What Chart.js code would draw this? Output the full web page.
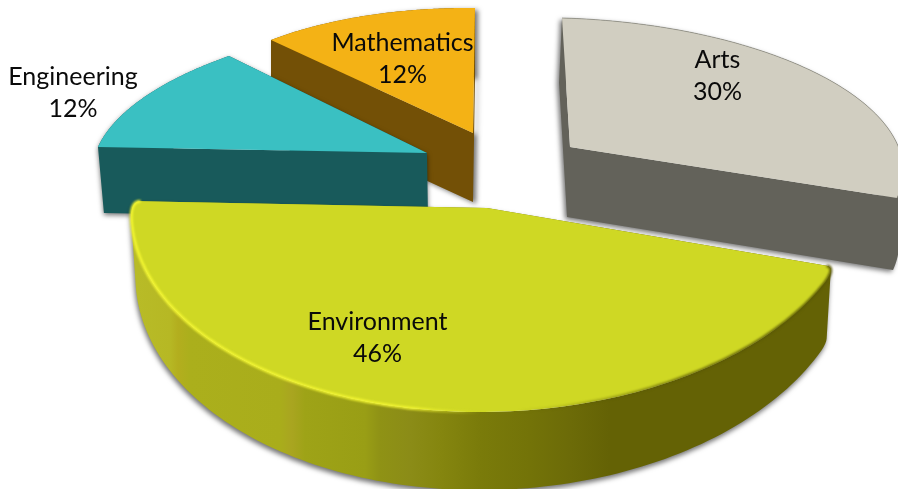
<!DOCTYPE html>
<html>
<head>
<meta charset="utf-8">
<style>
  html, body { margin: 0; padding: 0; background: #fff; }
  #wrap { width: 898px; height: 489px; }
</style>
<script src="https://cdn.jsdelivr.net/npm/chart.js@4/dist/chart.umd.js"></script>
</head>
<body>
<div id="wrap"><canvas id="pie"></canvas></div>
<script>
// Share of projects by field
const fields = ['Arts', 'Environment', 'Engineering', 'Mathematics'];
const shares = [30, 46, 12, 12];

const topColors = ['#D1CEC1', '#CFD824', '#3AC0C2', '#F4B215'];
const wallColors = ['#63625A', '#646205', '#185A5B', '#735006'];

// Back slices are painted first so the front slice overlaps them.
const paintOrder = [0, 3, 2, 1];

// Perspective frame of each exploded slice: [a, b, c, d, e, f, g, h].
const frames = [
  [337.5, 7.2, 8.755, 141.2, 121, -97.5, 0.01995, -0.0944],
  [363, -6, -4, 208, 38, -36.5, -0.02, 0.01967],
  [332.2, -2.5, -40.3, 135.4, -22, -91.5, 0, 0],
  [297.2, 2.74, -2, 125, 24, -111.5, 0, 0]
];

// Extrusion of each slice: [dx, dy, growX, growY].
const walls = [
  [-3, 70, -0.003, 0.04],
  [0, 63.6, -0.012, 0.0714],
  [1, 66, -0.015, 0],
  [0, 69, 0, 0]
];

const wallShadowOffsets = [[-2, 2], [-1, 3], [0, 2], [3, 2]];

// Corner softening radius of each slice's top face.
const cornerRadii = [0, 9, 0, 0];

// Label centres, relative to the pie centre.
const labelOffsets = [[268.5, -168.5], [-71.5, 93.5], [-376, -152], [-46.5, -186]];

// Facets along the front wall of the large slice, by canvas x.
const facetStops = [
  [137, '#B8BB27'], [170, '#B6B824'], [178, '#B3AE1E'], [190, '#ABAF1C'],
  [280, '#A9AD1B'], [292, '#A9A520'], [305, '#9EA317'], [365, '#999E15'],
  [380, '#8F9215'], [410, '#8B8C17'], [440, '#85860F'], [480, '#7A7B0A'],
  [530, '#737308'], [570, '#6C6B08'], [610, '#646205']
];

function project(i, arc, angle, t) {
  const [a, b, c, d, e, f, g, h] = frames[i];
  const k = arc.outerRadius / 244.5;
  const u = t * Math.cos(angle), v = t * Math.sin(angle);
  const w = 1 + g * u + h * v;
  return [arc.x + k * (e + (a * u + c * v) / w), arc.y + k * (f + (b * u + d * v) / w)];
}

function distance(p, q) {
  return Math.hypot(p[0] - q[0], p[1] - q[1]);
}

// Replaces a sharp rim end by a short curve running in from the radial edge.
function softCorner(corner, next, apex, r) {
  const l = distance(corner, apex);
  const a = [corner[0] + (apex[0] - corner[0]) * r / l, corner[1] + (apex[1] - corner[1]) * r / l];
  const pts = [];
  for (let s = 0; s <= 8; s++) {
    const q = s / 8, m = 1 - q;
    pts.push([
      m * m * a[0] + 2 * m * q * corner[0] + q * q * next[0],
      m * m * a[1] + 2 * m * q * corner[1] + q * q * next[1]
    ]);
  }
  return pts;
}

function rimPoints(i, arc) {
  let pts = [];
  const n = 120;
  for (let s = 0; s <= n; s++) {
    pts.push(project(i, arc, arc.startAngle + (arc.endAngle - arc.startAngle) * s / n, 1));
  }
  const r = cornerRadii[i];
  if (r) {
    const apex = project(i, arc, 0, 0);
    const first = pts[0], last = pts[pts.length - 1];
    const inner = pts.filter(p => distance(p, first) > r * 1.6 && distance(p, last) > r * 1.6);
    pts = [
      ...softCorner(first, inner[0], apex, r),
      ...inner.slice(1, -1),
      ...softCorner(last, inner[inner.length - 1], apex, r).reverse()
    ];
  }
  return pts;
}

function extrude(i, arc, p) {
  const [dx, dy, gx, gy] = walls[i];
  const o = project(i, arc, 0, 0);
  return [p[0] + dx + gx * (p[0] - o[0]), p[1] + dy + gy * (p[1] - o[1])];
}

function tracePolygon(ctx, pts) {
  ctx.moveTo(pts[0][0], pts[0][1]);
  for (let j = 1; j < pts.length; j++) ctx.lineTo(pts[j][0], pts[j][1]);
  ctx.closePath();
}

function traceLine(ctx, pts) {
  pts.forEach((p, j) => (j ? ctx.lineTo(p[0], p[1]) : ctx.moveTo(p[0], p[1])));
}

function signedArea(pts) {
  let s = 0;
  pts.forEach((p, j) => {
    const q = pts[(j + 1) % pts.length];
    s += p[0] * q[1] - q[0] * p[1];
  });
  return s;
}

function paintSlice(ctx, arc, i) {
  const rim = rimPoints(i, arc);
  const outline = [project(i, arc, 0, 0), ...rim];

  // Side walls: one quad for each outline edge, wound the same way so they merge.
  ctx.save();
  ctx.beginPath();
  outline.forEach((p, j) => {
    const q = outline[(j + 1) % outline.length];
    let quad = [p, q, extrude(i, arc, q), extrude(i, arc, p)];
    if (signedArea(quad) < 0) quad = quad.reverse();
    tracePolygon(ctx, quad);
  });
  if (i === 1) {
    const grad = ctx.createLinearGradient(137, 0, 610, 0);
    facetStops.forEach(([x, col]) => grad.addColorStop((x - 137) / (610 - 137), col));
    ctx.fillStyle = grad;
  } else {
    ctx.fillStyle = wallColors[i];
  }
  ctx.shadowColor = 'rgba(0,0,0,0.55)';
  ctx.shadowBlur = 5;
  ctx.shadowOffsetX = wallShadowOffsets[i][0];
  ctx.shadowOffsetY = wallShadowOffsets[i][1];
  ctx.fill('nonzero');
  ctx.restore();

  // Top face
  ctx.save();
  ctx.beginPath();
  tracePolygon(ctx, outline);
  ctx.fillStyle = arc.options.backgroundColor;
  ctx.fill();
  ctx.restore();

  // Rim bevels
  if (i === 1) {
    ctx.save();
    ctx.beginPath();
    traceLine(ctx, rim);
    const bevel = ctx.createLinearGradient(132, 0, 830, 0);
    bevel.addColorStop(0, 'rgba(245,248,50,0.95)');
    bevel.addColorStop(0.4, 'rgba(245,248,50,0.9)');
    bevel.addColorStop(0.5, 'rgba(230,235,40,0)');
    bevel.addColorStop(0.55, 'rgba(90,90,5,0)');
    bevel.addColorStop(0.8, 'rgba(90,88,5,0.75)');
    bevel.addColorStop(1, 'rgba(90,88,5,0.9)');
    ctx.strokeStyle = bevel;
    ctx.lineWidth = 3;
    ctx.filter = 'blur(1px)';
    ctx.stroke();
    ctx.restore();
  } else if (i === 0) {
    ctx.save();
    ctx.beginPath();
    traceLine(ctx, rim);
    ctx.strokeStyle = 'rgba(120,120,110,0.55)';
    ctx.lineWidth = 1;
    ctx.stroke();
    ctx.restore();
  }
}

class ExplodedPieController extends Chart.PieController {
  draw() {
    const arcs = this._cachedMeta.data;
    paintOrder.forEach(i => paintSlice(this.chart.ctx, arcs[i], i));
  }
}
ExplodedPieController.id = 'explodedPie';
ExplodedPieController.defaults = Chart.PieController.defaults;
ExplodedPieController.overrides = Chart.PieController.overrides;
Chart.register(ExplodedPieController);

const sliceLabels = {
  id: 'sliceLabels',
  afterDatasetsDraw(chart) {
    const { ctx } = chart;
    const arcs = chart.getDatasetMeta(0).data;
    ctx.save();
    ctx.font = '25px Lato';
    ctx.fillStyle = '#0a0a0a';
    ctx.textAlign = 'center';
    ctx.textBaseline = 'middle';
    fields.forEach((name, i) => {
      const x = arcs[i].x + labelOffsets[i][0];
      const y = arcs[i].y + labelOffsets[i][1];
      ctx.fillText(name, x, y - 16);
      ctx.fillText(shares[i] + '%', x, y + 16);
    });
    ctx.restore();
  }
};

new Chart(document.getElementById('pie'), {
  type: 'explodedPie',
  data: {
    labels: fields,
    datasets: [{ data: shares, backgroundColor: topColors, borderWidth: 0 }]
  },
  options: {
    responsive: true,
    maintainAspectRatio: false,
    animation: false,
    layout: { padding: 0 },
    plugins: { legend: { display: false }, tooltip: { enabled: false } }
  },
  plugins: [sliceLabels]
});
</script>
</body>
</html>
